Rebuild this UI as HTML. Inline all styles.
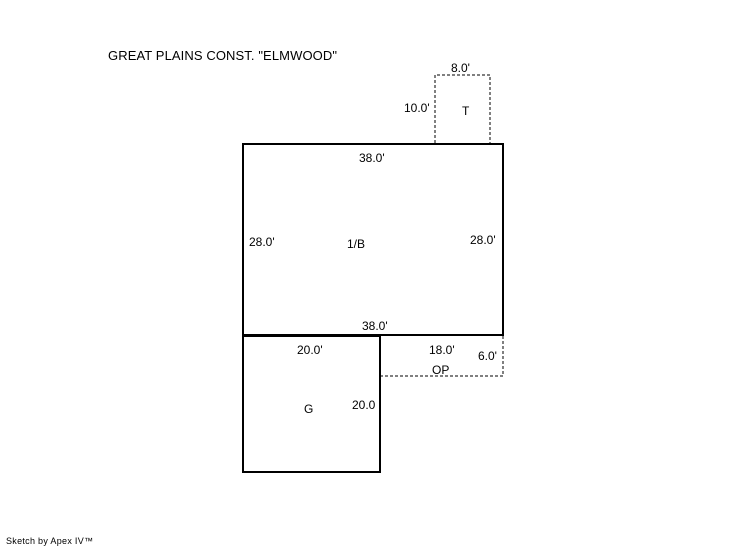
<!DOCTYPE html>
<html><head><style>body{margin:0;background:#fff}svg{display:block}text{font-family:"Liberation Sans",sans-serif;font-size:12px;fill:#000}</style></head>
<body>
<svg width="746" height="547" viewBox="0 0 746 547">
<text x="108" y="60" textLength="229" style="font-size:13px">GREAT PLAINS CONST. "ELMWOOD"</text>
<path d="M435 143 V75 H490 V143" fill="none" stroke="#000" stroke-dasharray="3,2"/>
<path d="M380 376 H503 V336" fill="none" stroke="#000" stroke-dasharray="3,2"/>
<rect x="243" y="144" width="260" height="191" fill="none" stroke="#000" stroke-width="2"/>
<rect x="243" y="336" width="137" height="136" fill="none" stroke="#000" stroke-width="2"/>
<text x="451" y="72">8.0'</text>
<text x="404" y="112">10.0'</text>
<text x="462" y="115">T</text>
<text x="359" y="162">38.0'</text>
<text x="249" y="246">28.0'</text>
<text x="347" y="248">1/B</text>
<text x="470" y="244">28.0'</text>
<text x="362" y="330">38.0'</text>
<text x="297" y="354">20.0'</text>
<text x="429" y="354">18.0'</text>
<text x="478" y="360">6.0'</text>
<text x="432" y="374">OP</text>
<text x="304" y="413">G</text>
<text x="352" y="409">20.0</text>
<text x="6" y="544" textLength="87" style="font-size:9px">Sketch by Apex IV™</text>
</svg>
</body></html>
